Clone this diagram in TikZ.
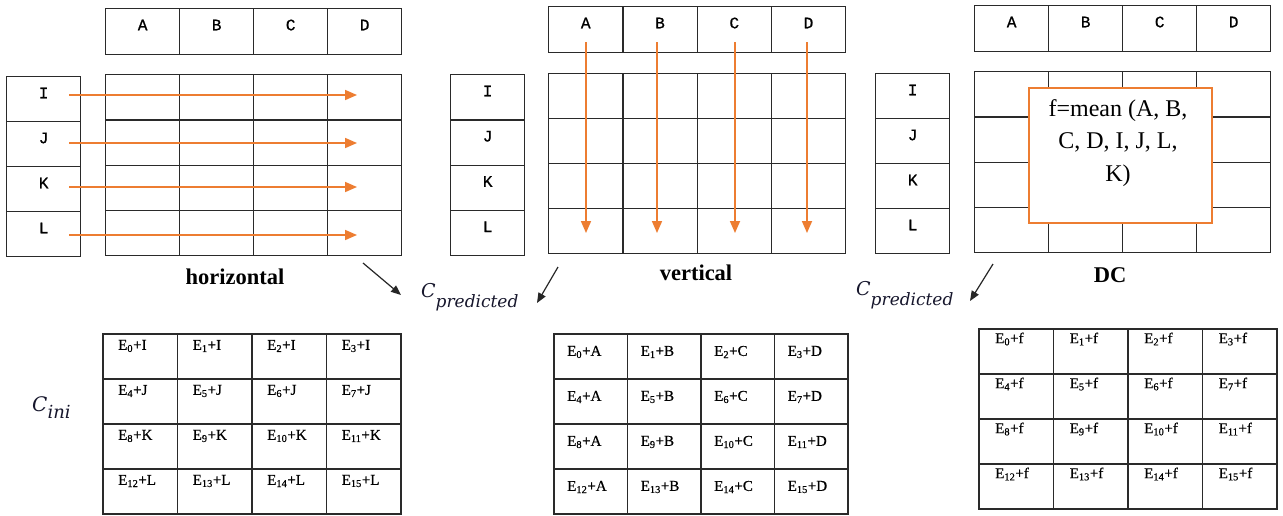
\documentclass[tikz,border=0pt]{standalone}
\usepackage{fontspec}
\setmainfont{Liberation Serif}
\newfontfamily\monof[FakeBold=0.8]{Liberation Mono}
\newfontfamily\entf[FakeBold=0.5]{Liberation Serif}
\newfontfamily\cfont{DejaVu Serif}
\usetikzlibrary{arrows.meta}
\definecolor{orng}{HTML}{ED7D31}
\definecolor{gridc}{HTML}{2A2A2A}
\definecolor{ink}{HTML}{16162C}
\newcommand\cpredlabel[1]{{\cfont\itshape\color{ink}\fontsize{19}{20}\selectfont C\raisebox{-10pt}{\fontsize{17}{20}\selectfont #1}}}
\begin{document}
\begin{tikzpicture}[x=1pt,y=-1pt,
  cellbox/.style={draw=gridc, line width=1.3pt, inner sep=0pt, anchor=north west, minimum width=74pt, minimum height=45.5pt},
  tcell/.style={draw=gridc, line width=1.6pt, inner sep=0pt, anchor=north west, minimum width=74.5pt, minimum height=45pt},
  hdr/.style={font=\monof\fontsize{16}{18}\selectfont, inner sep=0pt},
  ent/.style={font=\entf\fontsize{15}{16}\selectfont, anchor=west, inner sep=0pt},
  lbl/.style={font=\fontsize{22.5}{26}\selectfont\bfseries, inner sep=0pt},
  orangearrow/.style={draw=orng, line width=1.7pt, -{Triangle[length=12pt,width=10pt]}},
  blackarrow/.style={draw=black!85, line width=1.2pt, -{Triangle[length=10pt,width=8pt]}}
]
\useasboundingbox (0,0) rectangle (1283,515);
\fill[white] (0,0) rectangle (1283,515);

% ================= LEFT BLOCK (horizontal) =================
\foreach \L [count=\i from 0] in {A,B,C,D} {
  \node[cellbox, minimum height=46pt] (hh\L) at ({105+74*\i},8) {};
  \node[hdr] (hhT\L) at ([yshift=-17pt]hh\L.north) {\L};
}
\foreach \r in {0,...,3} \foreach \c in {0,...,3}
  \node[cellbox, minimum height=45.25pt] (hg\r\c) at ({105+74*\c},{74+45.25*\r}) {};
\foreach \L [count=\i from 0] in {I,J,K,L} {
  \node[cellbox, minimum height=45pt] (hv\L) at (6,{76+45*\i}) {};
  \node[hdr] (hvT\L) at ([yshift=-17pt]hv\L.north) {\L};
}
\foreach \y [count=\i] in {95,143,187,235} {
  \coordinate (hs\i) at (69,\y);
  \coordinate (he\i) at (357,\y);
  \draw[orangearrow] (hs\i) -- (he\i);
}
\node[lbl] (lblh) at (235,277) {horizontal};

% ================= MIDDLE BLOCK (vertical) =================
\foreach \L [count=\i from 0] in {A,B,C,D} {
  \node[cellbox, minimum width=74.25pt, minimum height=46pt] (vh\L) at ({548+74.25*\i},6) {};
  \node[hdr] (vhT\L) at ([yshift=-17pt]vh\L.north) {\L};
}
\foreach \r in {0,...,3} \foreach \c in {0,...,3}
  \node[cellbox, minimum width=74.25pt, minimum height=45pt] (vg\r\c) at ({548+74.25*\c},{73+45*\r}) {};
\foreach \L [count=\i from 0] in {I,J,K,L} {
  \node[cellbox, minimum height=45.25pt] (vv\L) at (450,{74+45.25*\i}) {};
  \node[hdr] (vvT\L) at ([yshift=-17pt]vv\L.north) {\L};
}
\foreach \x [count=\i] in {586,657,735,807} {
  \coordinate (vs\i) at (\x,42);
  \coordinate (ve\i) at (\x,233);
  \draw[orangearrow] (vs\i) -- (ve\i);
}
\node[lbl] (lblv) at (696,273) {vertical};

% ================= RIGHT BLOCK (DC) =================
\foreach \L [count=\i from 0] in {A,B,C,D} {
  \node[cellbox, minimum height=46pt] (dh\L) at ({974+74*\i},5) {};
  \node[hdr] (dhT\L) at ([yshift=-17pt]dh\L.north) {\L};
}
\foreach \r in {0,...,3} \foreach \c in {0,...,3}
  \node[cellbox, minimum height=45.25pt] (dg\r\c) at ({974+74*\c},{71+45.25*\r}) {};
\foreach \L [count=\i from 0] in {I,J,K,L} {
  \node[cellbox, minimum height=45pt] (dv\L) at (875,{73+45*\i}) {};
  \node[hdr] (dvT\L) at ([yshift=-17pt]dv\L.north) {\L};
}
\node[draw=orng, fill=white, line width=1.5pt, inner sep=0pt, minimum width=183pt, minimum height=135pt] (fbox) at (1120.5,155.5) {};
\node[font=\fontsize{24}{32.5}\selectfont, align=center, inner sep=0pt, anchor=north] (ftext) at (1118,99) {f=mean (A, B,\\C, D, I, J, L,\\K)};
\node[lbl] (lbld) at (1110,275) {DC};

% ================= C labels and black arrows =================
\node[anchor=base west, inner sep=0pt] (cp1) at (421,297) {\cpredlabel{predicted}};
\node[anchor=base west, inner sep=0pt] (cp2) at (856,295) {\cpredlabel{predicted}};
\node[anchor=base west, inner sep=0pt] (cini) at (32,411) {{\cfont\itshape\color{ink}\fontsize{20}{20}\selectfont C\raisebox{-7pt}{\fontsize{18}{20}\selectfont ini}}};

\coordinate (ba1s) at (363,263); \coordinate (ba1e) at (401,295);
\coordinate (ba2s) at (558,267); \coordinate (ba2e) at (537,303);
\coordinate (ba3s) at (993,264); \coordinate (ba3e) at (970,301);
\draw[blackarrow] (ba1s) -- (ba1e);
\draw[blackarrow] (ba2s) -- (ba2e);
\draw[blackarrow] (ba3s) -- (ba3e);

% ================= BOTTOM TABLES =================
\foreach \r/\RL in {0/I,1/J,2/K,3/L} \foreach \c in {0,...,3} {
  \pgfmathtruncatemacro\n{4*\r+\c}
  \node[tcell] (bl\r\c) at ({102+74.5*\c},{333+45*\r}) {};
  \node[ent] (blT\r\c) at ([xshift=16pt,yshift=-13pt]bl\r\c.north west) {E\textsubscript{\n}+\RL};
}
\foreach \r in {0,...,3} \foreach \c/\CL in {0/A,1/B,2/C,3/D} {
  \pgfmathtruncatemacro\n{4*\r+\c}
  \node[tcell, minimum width=73.5pt] (bm\r\c) at ({553+73.5*\c},{333+45*\r}) {};
  \node[ent] (bmT\r\c) at ([xshift=14pt,yshift=-19pt]bm\r\c.north west) {E\textsubscript{\n}+\CL};
}
\foreach \r in {0,...,3} \foreach \c in {0,...,3} {
  \pgfmathtruncatemacro\n{4*\r+\c}
  \node[tcell] (br\r\c) at ({978+74.5*\c},{328+45*\r}) {};
  \node[ent] (brT\r\c) at ([xshift=17pt,yshift=-11pt]br\r\c.north west) {E\textsubscript{\n}+f};
}
\end{tikzpicture}
\end{document}
